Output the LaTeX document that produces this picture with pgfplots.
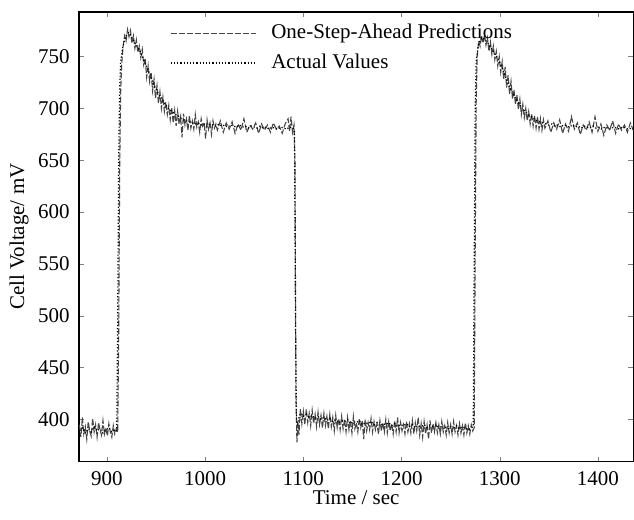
\documentclass[border=0pt]{standalone}
\usepackage{fontspec}
\setmainfont{Liberation Serif}
\usepackage{pgfplots}
\pgfplotsset{compat=1.18}
\begin{document}
\fontsize{10.5}{12}\selectfont
\begin{tikzpicture}
\begin{axis}[
  name=ax,
  scale only axis,
  width=277.5pt, height=225pt,
  xmin=871.5, xmax=1436,
  ymin=359.5, ymax=793,
  xtick={900,1000,1100,1200,1300,1400},
  ytick={400,450,500,550,600,650,700,750},
  tick align=inside,
  major tick length=2.5pt,
  /pgf/number format/assume math mode=true,
  /pgf/number format/1000 sep={},
  tick label style={font=\fontsize{10.5}{12}\selectfont},
  xticklabel style={yshift=-1.5pt},
  yticklabel style={xshift=-1pt},
  xlabel={Time / sec},
  ylabel={Cell Voltage/ mV},
  label style={font=\fontsize{10.5}{12}\selectfont},
  every axis x label/.style={at={(axis description cs:0.5,-0.08)}, anchor=center},
  every axis y label/.style={at={(axis description cs:-0.108,0.5)}, rotate=90, anchor=center},
  axis line style={line width=0.7pt},
  legend cell align=left,
  legend image code/.code={\draw[#1] (0pt,0pt) -- (42.5pt,0pt);},
  legend style={draw=none, fill=none, at={(axis description cs:0.164,0.98)}, anchor=north west,
    inner sep=0pt, font=\fontsize{10.5}{12}\selectfont, row sep=3pt, column sep=6pt,
    nodes={inner sep=1.5pt}},
]
\addplot[gray!55!black, line width=0.55pt, dash pattern=on 3pt off 1pt] coordinates {
(872,395)(873.5,383)(875,402)(876.5,386)(878,393)(879.5,381)(881,398)(882.5,389)(884,384)(885.5,401)
(887,388)(888.5,395)(890,383)(891.5,397)(893,390)(894.5,385)(896,399)(897.5,386)(899,392)(900.5,384)
(902,396)(903.5,388)(905,383)(906.5,394)(908,386)(909.5,391)(911,388)(912,480)(913,640)(914,715)
(915,742)(916.5,760)(918,770)(919.5,765)(921,776)(922.5,769)(924,775)(925.5,763)(927,770)(928.5,758)
(930,766)(931.5,754)(933,760)(934.5,749)(936,757)(937.5,742)(939,748)(940.5,730)(942,741)(943.5,726)
(945,735)(946.5,717)(948,728)(949.5,710)(951,722)(952.5,705)(954,716)(955.5,700)(957,711)(958.5,697)
(960,706)(961.5,694)(963,703)(964.5,689)(966,701)(967.5,686)(969,698)(970.5,683)(972,697)(973.5,685)
(975,692)(976.5,672)(978,695)(979.5,684)(981,690)(982.5,679)(984,693)(985.5,681)(987,688)(988.5,680)
(990,694)(991.5,682)(993,687)(994.5,677)(996,690)(997.5,683)(999,686)(1000.5,671)(1002,689)(1003.5,680)
(1005,686)(1006.5,675)(1008,688)(1009.5,681)(1011,685)(1012.5,679)(1015.5,688)(1018.5,677)(1021.5,686)
(1024.5,680)(1027.5,687)(1030.5,676)(1033.5,685)(1036.5,679)(1039.5,690)(1042.5,677)(1045.5,684)
(1048.5,680)(1051.5,686)(1054.5,676)(1057.5,685)(1060.5,679)(1063.5,684)(1066.5,677)(1069.5,686)
(1072.5,680)(1075.5,683)(1078.5,676)(1081.5,685)(1084.5,690)(1086,678)(1087.5,692)(1089,677)(1090.5,684)
(1091.5,650)(1092.5,420)(1093.5,378)(1094.5,398)(1095.5,385)(1097,410)(1098.5,396)(1100,408)(1101.5,395)
(1103,410)(1104.5,397)(1106,406)(1107.5,394)(1109,409)(1110.5,396)(1112,405)(1113.5,393)(1115,407)
(1116.5,395)(1118,404)(1119.5,392)(1121,406)(1122.5,394)(1124,403)(1125.5,391)(1127,405)(1128.5,393)
(1130,402)(1131.5,389)(1133,404)(1134.5,392)(1136,401)(1137.5,390)(1139,403)(1140.5,391)(1142,400)
(1143.5,388)(1145,402)(1146.5,390)(1148,399)(1149.5,387)(1151,403)(1152.5,391)(1154,397)(1155.5,388)
(1157,401)(1158.5,392)(1160,399)(1161.5,381)(1163,400)(1164.5,389)(1166,397)(1167.5,390)(1169,401)
(1170.5,388)(1172,398)(1173.5,390)(1175,396)(1176.5,386)(1178,399)(1179.5,389)(1181,397)(1182.5,388)
(1184,400)(1185.5,387)(1187,398)(1188.5,389)(1190,396)(1191.5,386)(1193,399)(1194.5,388)(1196,402)
(1197.5,387)(1199,397)(1200.5,389)(1202,395)(1203.5,386)(1205,398)(1206.5,388)(1208,396)(1209.5,387)
(1211,399)(1212.5,386)(1214,397)(1215.5,389)(1217,402)(1218.5,385)(1220,396)(1221.5,383)(1223,398)
(1224.5,386)(1226,395)(1227.5,381)(1229,399)(1230.5,387)(1232,396)(1233.5,388)(1235,397)(1236.5,387)
(1238,395)(1239.5,386)(1241,398)(1242.5,388)(1244,394)(1245.5,385)(1247,397)(1248.5,387)(1250,395)
(1251.5,386)(1253,398)(1254.5,388)(1256,394)(1257.5,385)(1259,396)(1260.5,387)(1262,394)(1263.5,385)
(1265,397)(1266.5,387)(1268,394)(1269.5,386)(1271,395)(1272.5,389)(1274,392)(1275,560)(1276,705)
(1277,750)(1278.5,765)(1280,760)(1281.5,770)(1283,763)(1284.5,771)(1286,761)(1287.5,768)(1289,755)
(1290.5,764)(1292,752)(1293.5,760)(1295,747)(1296.5,755)(1298,741)(1299.5,750)(1301,735)(1302.5,745)
(1304,728)(1305.5,740)(1307,720)(1308.5,732)(1310,714)(1311.5,726)(1313,709)(1314.5,718)(1316,704)
(1317.5,713)(1319,699)(1320.5,709)(1322,694)(1323.5,704)(1325,691)(1326.5,700)(1328,688)(1329.5,697)
(1331,685)(1332.5,695)(1334,683)(1335.5,693)(1337,681)(1338.5,692)(1340,680)(1341.5,690)(1343,679)
(1344.5,689)(1346,681)(1349,688)(1352,677)(1355,686)(1358,680)(1361,689)(1364,676)(1367,685)(1370,678)
(1373,692)(1376,680)(1379,686)(1382,675)(1385,684)(1388,679)(1391,687)(1394,677)(1397,692)(1400,678)
(1403,685)(1406,674)(1409,684)(1412,679)(1415,688)(1418,676)(1421,685)(1424,679)(1427,684)(1430,677)
(1433,686)(1436,679)
};
\addlegendentry{One-Step-Ahead Predictions}
\addplot[black, line width=0.6pt, densely dotted] coordinates {
(872,389)(875,392)(878,387)(881,391)(884,388)(887,393)(890,389)(893,391)(896,387)(899,390)
(902,392)(905,388)(908,390)(910,389)(911,500)(912,650)(913,720)(914,745)(916,758)(918,766)
(920,771)(922,773)(924,771)(926,767)(928,764)(930,761)(932,758)(934,755)(936,750)(938,746)
(940,741)(942,737)(944,732)(946,727)(948,722)(950,719)(952,715)(954,712)(956,709)(958,706)
(960,703)(963,700)(966,697)(969,695)(972,693)(975,691)(978,689)(981,688)(984,687)(987,686)
(990,685)(993,686)(996,684)(999,685)(1002,683)(1005,685)(1008,684)(1011,683)(1014,685)(1017,683)
(1020,684)(1023,682)(1026,684)(1029,683)(1032,682)(1035,684)(1038,682)(1041,683)(1044,681)(1047,683)
(1050,682)(1053,681)(1056,683)(1059,681)(1062,682)(1065,680)(1068,682)(1071,681)(1074,680)(1077,682)
(1080,681)(1083,680)(1086,682)(1089,681)(1091,680)(1092,500)(1093,400)(1094,395)(1096,404)(1098,406)
(1100,403)(1103,405)(1106,402)(1109,404)(1112,401)(1115,403)(1118,400)(1121,402)(1124,399)(1127,401)
(1130,398)(1133,400)(1136,397)(1139,399)(1142,398)(1145,400)(1148,396)(1151,398)(1154,397)(1157,399)
(1160,395)(1163,397)(1166,396)(1169,398)(1172,395)(1175,397)(1178,394)(1181,396)(1184,395)(1187,397)
(1190,394)(1193,396)(1196,393)(1199,395)(1202,394)(1205,396)(1208,393)(1211,395)(1214,392)(1217,394)
(1220,393)(1223,395)(1226,392)(1229,394)(1232,393)(1235,395)(1238,392)(1241,394)(1244,393)(1247,391)
(1250,393)(1253,392)(1256,394)(1259,391)(1262,393)(1265,392)(1268,390)(1271,392)(1273,393)(1274,550)
(1275,700)(1276,745)(1278,760)(1280,766)(1282,768)(1284,767)(1286,765)(1288,763)(1290,760)(1292,757)
(1294,754)(1296,751)(1298,748)(1300,744)(1302,740)(1304,735)(1306,730)(1308,725)(1310,721)(1312,717)
(1314,713)(1316,710)(1318,707)(1320,704)(1323,700)(1326,697)(1329,694)(1332,692)(1335,690)(1338,688)
(1341,687)(1344,686)(1347,685)(1350,684)(1353,685)(1356,683)(1359,684)(1362,682)(1365,684)(1368,683)
(1371,682)(1374,684)(1377,682)(1380,683)(1383,681)(1386,683)(1389,682)(1392,681)(1395,683)(1398,681)
(1401,682)(1404,680)(1407,682)(1410,681)(1413,680)(1416,682)(1419,681)(1422,680)(1425,682)(1428,681)
(1431,680)(1434,681)(1436,680)
};
\addlegendentry{Actual Values}
\end{axis}
\path[use as bounding box] ([xshift=-39.5pt,yshift=-29pt]ax.south west) rectangle ([yshift=6pt]ax.north east);
\end{tikzpicture}
\end{document}
